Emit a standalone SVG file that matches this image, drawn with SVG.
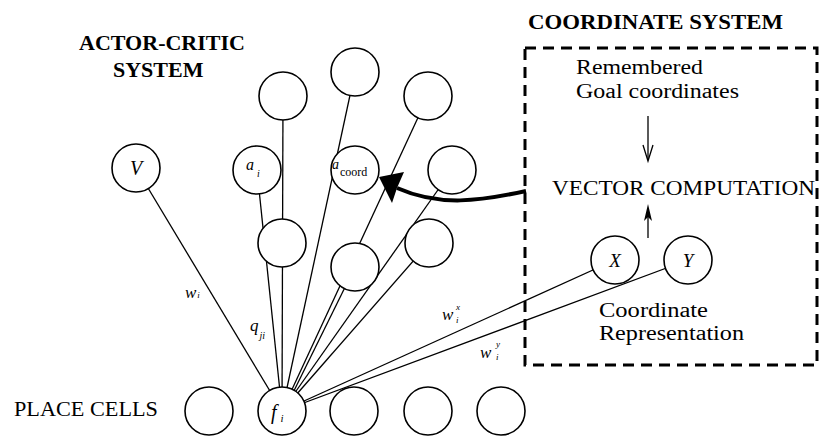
<svg xmlns="http://www.w3.org/2000/svg" width="819" height="437" viewBox="0 0 819 437">
<defs>
<style>
.c{fill:#fff;stroke:#000;stroke-width:1.6}
.l{stroke:#000;stroke-width:1.3;fill:none}
.t{font-family:"Liberation Serif","Times New Roman",serif;fill:#000}
.b{font-family:"Liberation Serif","Times New Roman",serif;font-weight:bold;font-size:22px;fill:#000}
.i{font-family:"Liberation Serif","Times New Roman",serif;font-style:italic;fill:#000}
</style>
</defs>
<rect width="819" height="437" fill="#fff"/>
<text class="b" x="79" y="50" textLength="166" lengthAdjust="spacingAndGlyphs">ACTOR-CRITIC</text>
<text class="b" x="113" y="77">SYSTEM</text>
<text class="b" x="528" y="29" textLength="255" lengthAdjust="spacingAndGlyphs">COORDINATE SYSTEM</text>
<text class="t" x="14" y="416" font-size="22" textLength="144" lengthAdjust="spacingAndGlyphs">PLACE CELLS</text>
<g id="connectors">
<line class="l" x1="282" y1="411" x2="136" y2="168"/>
<line class="l" x1="282" y1="411" x2="257" y2="170"/>
<line class="l" x1="282" y1="411" x2="283" y2="96"/>
<line class="l" x1="282" y1="411" x2="355" y2="72"/>
<line class="l" x1="282" y1="411" x2="428" y2="96"/>
<line class="l" x1="284" y1="411" x2="355" y2="267"/>
<line class="l" x1="282" y1="411" x2="429" y2="243"/>
<line class="l" x1="282" y1="411" x2="452" y2="170"/>
<line class="l" x1="282" y1="411" x2="615" y2="260"/>
<line class="l" x1="282" y1="411" x2="688" y2="260"/>
<path d="M526,191 C480,201 440,207 397,188" fill="none" stroke="#000" stroke-width="4"/>
<polygon points="379,177 404,172 397,188 392,203" fill="#000"/>
<line class="l" x1="648" y1="116" x2="648" y2="160"/>
<path class="l" d="M643,145 L648,161 L653,145"/>
<line x1="648" y1="238" x2="648" y2="210" stroke="#000" stroke-width="1.3"/>
<polygon points="648,204 644,221 648,217 652,221" fill="#000"/>
</g>
<rect x="525" y="48" width="292" height="317" fill="none" stroke="#000" stroke-width="3" stroke-dasharray="11 7"/>
<g id="V"><circle class="c" cx="136" cy="168" r="24"/><text class="i" x="136" y="175" font-size="20" text-anchor="middle">V</text></g>
<g id="a_i"><circle class="c" cx="257" cy="170" r="24"/><text class="i" x="246" y="170" font-size="16">a<tspan font-size="10" dx="3" dy="7">i</tspan></text></g>
<g id="top1"><circle class="c" cx="283" cy="96" r="24"/></g>
<g id="top2"><circle class="c" cx="355" cy="72" r="24"/></g>
<g id="top3"><circle class="c" cx="428" cy="96" r="24"/></g>
<g id="a_coord"><circle class="c" cx="355" cy="170" r="24"/><text class="i" x="332" y="169" font-size="14">a</text><text class="t" x="340" y="176" font-size="12">coord</text></g>
<g id="n_right"><circle class="c" cx="452" cy="170" r="24"/></g>
<g id="r3a"><circle class="c" cx="282" cy="243" r="24"/></g>
<g id="r3b"><circle class="c" cx="355" cy="267" r="24"/></g>
<g id="r3c"><circle class="c" cx="429" cy="243" r="24"/></g>
<g id="X"><circle class="c" cx="615" cy="260" r="24"/><text class="i" x="615" y="267" font-size="19" text-anchor="middle">X</text></g>
<g id="Y"><circle class="c" cx="688" cy="260" r="24"/><text class="i" x="688" y="267" font-size="19" text-anchor="middle">Y</text></g>
<g id="p1"><circle class="c" cx="209" cy="411" r="24"/></g>
<g id="f_i"><circle class="c" cx="282" cy="411" r="24"/><text class="i" x="271" y="419" font-size="20">f<tspan font-size="11" dx="4" dy="3">i</tspan></text></g>
<g id="p3"><circle class="c" cx="354" cy="411" r="24"/></g>
<g id="p4"><circle class="c" cx="428" cy="411" r="24"/></g>
<g id="p5"><circle class="c" cx="501" cy="411" r="24"/></g>
<g id="labels">
<text class="i" x="185" y="298" font-size="17">w<tspan font-size="9" dx="1" dy="0">i</tspan></text>
<text class="i" x="250" y="331" font-size="17">q<tspan font-size="10" dx="1" dy="8">ji</tspan></text>
<text class="i" x="442" y="320" font-size="17">w</text>
<text class="i" x="456" y="310" font-size="9">x</text>
<text class="i" x="456" y="323" font-size="9">i</text>
<text class="i" x="480" y="358" font-size="17">w</text>
<text class="i" x="496" y="347" font-size="9">y</text>
<text class="i" x="496" y="360" font-size="9">i</text>
</g>
<g id="coord_texts">
<text class="t" x="576" y="74" font-size="20" textLength="127" lengthAdjust="spacingAndGlyphs">Remembered</text>
<text class="t" x="576" y="98" font-size="20" textLength="163" lengthAdjust="spacingAndGlyphs">Goal coordinates</text>
<text class="t" x="552" y="195" font-size="22" textLength="263" lengthAdjust="spacingAndGlyphs">VECTOR COMPUTATION</text>
<text class="t" x="599" y="317" font-size="20" textLength="109" lengthAdjust="spacingAndGlyphs">Coordinate</text>
<text class="t" x="599" y="340" font-size="20" textLength="145" lengthAdjust="spacingAndGlyphs">Representation</text>
</g>
</svg>
